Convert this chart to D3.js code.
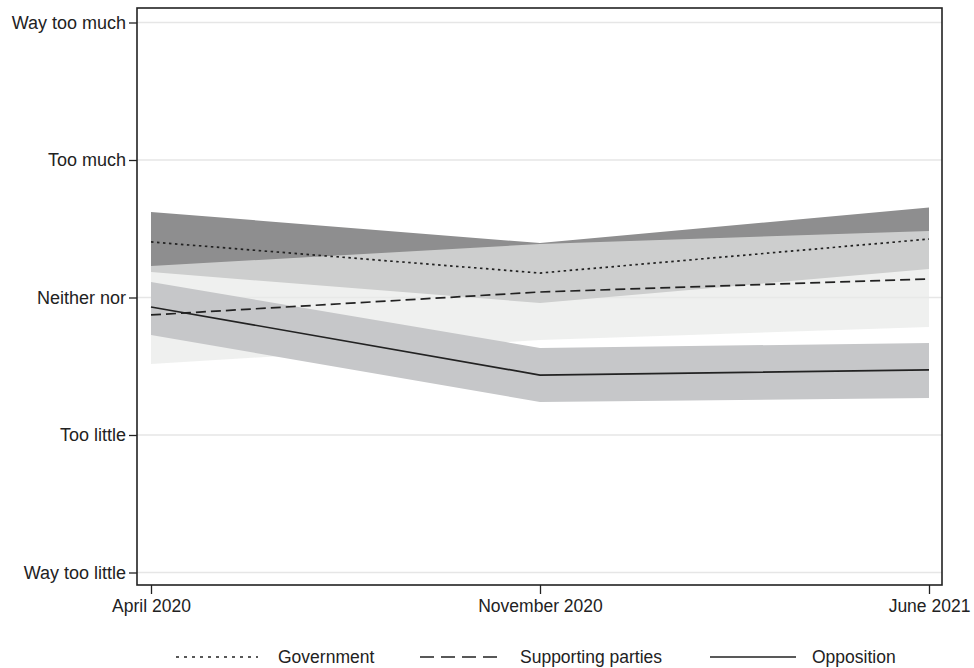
<!DOCTYPE html>
<html><head><meta charset="utf-8">
<script src="https://cdn.jsdelivr.net/npm/d3@7"></script>
<style>body{margin:0;background:#fff;} text{font-family:"Liberation Sans",Arial,Helvetica,sans-serif;fill:#222;}</style>
</head><body>
<svg id="c" width="974" height="668"></svg>
<script>
const waves = ["April 2020", "November 2020", "June 2021"];
const yTickValues = [1, 2, 3, 4, 5];
const yTickLabels = ["Way too little", "Too little", "Neither nor", "Too much", "Way too much"];

const govMean = [3.404, 3.178, 3.425];
const govLo = [3.185, 2.960, 3.207];
const govHi = [3.622, 3.396, 3.655];

const supMean = [2.873, 3.040, 3.135];
const supLo = [2.516, 2.691, 2.785];
const supHi = [3.229, 3.389, 3.484];

const oppMean = [2.931, 2.436, 2.473];
const oppLo = [2.727, 2.240, 2.269];
const oppHi = [3.113, 2.633, 2.669];

const legendLabels = ["Government", "Supporting parties", "Opposition"];

const svg = d3.select("#c");
const box = {l: 137, r: 942, t: 8, b: 585};
const x = d3.scalePoint().domain(waves).range([151, 929]);
const y = d3.scaleLinear().domain([1, 5]).range([572.5, 22.5]);

// gridlines
svg.append("g").selectAll("line").data(yTickValues).join("line")
  .attr("x1", box.l).attr("x2", box.r)
  .attr("y1", d => y(d)).attr("y2", d => y(d))
  .attr("stroke", "#e6e6e6").attr("stroke-width", 1.5);

function band(lo, hi) {
  return d3.area().x((d, i) => x(waves[i])).y0((d, i) => y(lo[i])).y1((d, i) => y(hi[i]))(waves);
}
function line(m) {
  return d3.line().x((d, i) => x(waves[i])).y((d, i) => y(m[i]))(waves);
}

svg.append("path").attr("d", band(govLo, govHi)).attr("fill", "#8e8e8f");
svg.append("path").attr("d", band(supLo, supHi)).attr("fill", "#e8e9e8").attr("fill-opacity", 0.7);
svg.append("path").attr("d", band(oppLo, oppHi)).attr("fill", "#c6c7c9");

svg.append("path").attr("d", line(govMean)).attr("fill", "none").attr("stroke", "#222")
  .attr("stroke-width", 1.7).attr("stroke-dasharray", "2.5,3.5");
svg.append("path").attr("d", line(supMean)).attr("fill", "none").attr("stroke", "#222")
  .attr("stroke-width", 1.7).attr("stroke-dasharray", "10,5");
svg.append("path").attr("d", line(oppMean)).attr("fill", "none").attr("stroke", "#222")
  .attr("stroke-width", 1.7);

// plot box
svg.append("rect").attr("x", box.l).attr("y", box.t).attr("width", box.r - box.l).attr("height", box.b - box.t)
  .attr("fill", "none").attr("stroke", "#222").attr("stroke-width", 1.6);

// y axis
const yAxis = d3.axisLeft(y).tickValues(yTickValues).tickFormat((d, i) => yTickLabels[i]).tickSize(8).tickPadding(3);
const gy = svg.append("g").attr("transform", `translate(${box.l},0)`).call(yAxis);
gy.select(".domain").remove();
gy.selectAll(".tick line").attr("stroke", "#222").attr("stroke-width", 1.3);
gy.selectAll(".tick text").attr("font-size", 18).attr("fill", "#222")
  .attr("font-family", "'Liberation Sans',Arial,Helvetica,sans-serif");

// x axis
const xAxis = d3.axisBottom(x).tickSize(9).tickPadding(6);
const gx = svg.append("g").attr("transform", `translate(0,${box.b})`).call(xAxis);
gx.select(".domain").remove();
gx.selectAll(".tick line").attr("stroke", "#222").attr("stroke-width", 1.3);
gx.selectAll(".tick text").attr("font-size", 17.5).attr("fill", "#222")
  .attr("font-family", "'Liberation Sans',Arial,Helvetica,sans-serif");

// legend
const legY = 657;
const legItems = [
  {x1: 176, x2: 258, tx: 278, dash: "3,5"},
  {x1: 420, x2: 499, tx: 520, dash: "14,7"},
  {x1: 710, x2: 796, tx: 812, dash: null}
];
const lg = svg.append("g");
legItems.forEach((it, i) => {
  const l = lg.append("line").attr("x1", it.x1).attr("x2", it.x2).attr("y1", legY).attr("y2", legY)
    .attr("stroke", "#222").attr("stroke-width", 1.7);
  if (it.dash) l.attr("stroke-dasharray", it.dash);
  lg.append("text").attr("x", it.tx).attr("y", legY).attr("dy", "0.35em").attr("font-size", 17.5)
    .text(legendLabels[i]);
});
</script>
</body></html>
